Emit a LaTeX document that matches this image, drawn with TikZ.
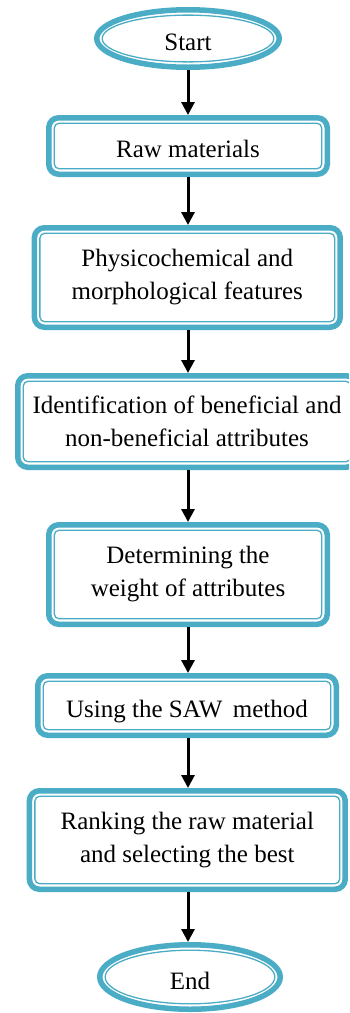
\documentclass[tikz,border=0pt]{standalone}
\usepackage{fontspec}
\setmainfont{Liberation Serif}
\usetikzlibrary{shapes.geometric,arrows.meta}
\definecolor{cb}{RGB}{75,172,198}
\tikzset{
  flowbox/.style={draw=cb, line width=5.5pt, rounded corners=10pt, fill=white,
    inner sep=0pt, align=center, font=\fontsize{25}{33}\selectfont},
  oneline/.style={text height=23pt, text depth=0pt},
  termbox/.style={draw=cb, line width=5.5pt, ellipse, fill=white,
    inner sep=0pt, text height=24pt, text depth=0pt, font=\fontsize{25}{33}\selectfont},
  innerline/.style={draw=cb, line width=1.3pt, rounded corners=5pt},
  innerell/.style={draw=cb, line width=1.3pt},
  flowarrow/.style={line width=3pt, -{Triangle[width=13pt,length=13pt]}}
}
\begin{document}
\begin{tikzpicture}[x=1pt,y=-1pt]
\useasboundingbox (0,0) rectangle (349,1013);
\clip (0,0) rectangle (349,1013);
\node[termbox, minimum width=182.5pt, minimum height=57.5pt] (start) at (188,38.5) {Start};
\node[flowbox, oneline, minimum width=278.5pt, minimum height=56.5pt] (raw) at (188,146) {Raw materials};
\node[flowbox, minimum width=305.8pt, minimum height=99.5pt] (phys) at (187.3,277.5) {Physicochemical and\\morphological features};
\node[flowbox, minimum width=338.5pt, minimum height=91.5pt] (ident) at (187,421.5) {Identification of beneficial and\\non-beneficial attributes};
\node[flowbox, minimum width=278.5pt, minimum height=99.5pt] (weight) at (188,574.5) {Determining the\\weight of attributes};
\node[flowbox, oneline, minimum width=298.5pt, minimum height=59.5pt] (saw) at (187,705.5) {Using the SAW\, method};
\node[flowbox, minimum width=315.8pt, minimum height=98.5pt] (rank) at (187.3,840) {Ranking the raw material\\and selecting the best};
\node[termbox, minimum width=180.5pt, minimum height=64.5pt] (end) at (190,977) {End};
\foreach \n in {raw,phys,ident,weight,saw,rank}
  \draw[innerline] ([xshift=8.2pt,yshift=-8.2pt]\n.north west) rectangle ([xshift=-8.2pt,yshift=8.2pt]\n.south east);
\draw[innerell] (start.center) ellipse [x radius=85.8pt, y radius=23.4pt];
\draw[innerell] (end.center) ellipse [x radius=84.8pt, y radius=26.8pt];
\draw[flowarrow] (start.south) -- (raw.north);
\draw[flowarrow] (raw.south) -- (raw.south |- phys.north);
\draw[flowarrow] (raw.south |- phys.south) -- (raw.south |- ident.north);
\draw[flowarrow] (raw.south |- ident.south) -- (raw.south |- weight.north);
\draw[flowarrow] (weight.south) -- (weight.south |- saw.north);
\draw[flowarrow] (weight.south |- saw.south) -- (weight.south |- rank.north);
\draw[flowarrow] (weight.south |- rank.south) -- (end.north -| weight.south);
\end{tikzpicture}
\end{document}
